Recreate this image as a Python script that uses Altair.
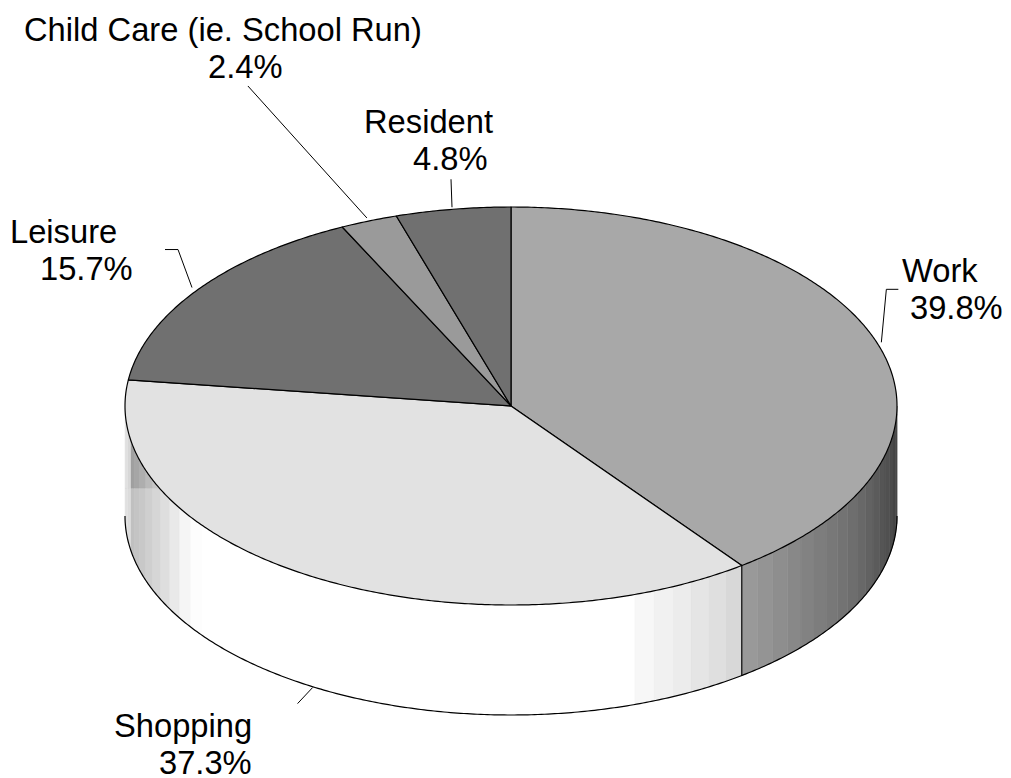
import math
import altair as alt
import pandas as pd

# ---- chart values -------------------------------------------------------
names = ["Work", "Shopping", "Leisure", "Child Care (ie. School Run)", "Resident"]
shares = [39.8, 37.3, 15.7, 2.4, 4.8]
share_labels = ["39.8%", "37.3%", "15.7%", "2.4%", "4.8%"]

# ---- styles -------------------------------------------------------------
top_colors = ["#a8a8a8", "#e2e2e2", "#707070", "#9a9a9a", "#707070"]
work_wall = ["#999999", "#949494", "#8e8e8e", "#888888", "#828282", "#7d7d7d",
             "#787878", "#737373", "#6e6e6e", "#686868", "#626262", "#5b5b5b",
             "#555555", "#505050", "#4b4b4b", "#464646", "#414141", "#3c3c3c"]
shop_wall_right = ["#d8d8d8", "#dfdfdf", "#e5e5e5", "#ececec", "#f1f1f1", "#f7f7f7"]
shop_wall_left_low = ["#fdfdfd", "#f5f5f5", "#e9e9e9", "#dedede", "#d6d6d6",
                      "#cfcfcf", "#c8c8c8", "#c4c4c4", "#c0c0c0", "#dcdcdc", "#e0e0e0", "#e0e0e0"]
shop_wall_left_up = ["#fdfdfd", "#f5f5f5", "#e9e9e9", "#d4d4d4", "#c6c6c6",
                     "#bababa", "#aeaeae", "#a6a6a6", "#a0a0a0", "#d8d8d8", "#e0e0e0", "#e0e0e0"]

# ---- layout -------------------------------------------------------------
CX, CY, RX, RY, DEPTH = 511, 406, 386, 199, 110
STEP = 3.0
SEAM_Y = 488
FONT = "Liberation Sans"
FONT_SIZE = 32.7
# slice index -> offsets of the leader from the slice's rim mid-point
leaders = {
    0: [(4, -1), (9, -54), (21, -54)],
    1: [(-3, 0), (-18, 16)],
    2: [(-6, -2), (-20, -40), (-33, -40)],
    3: [(-2, -3), (-121, -135)],
    4: [(-1, -2), (-2, -30)],
}
# per text line: slice, kind, left x, baseline y
label_layout = [
    (0, "name", 902, 282), (0, "share", 910, 319),
    (1, "name", 114, 737), (1, "share", 159, 774),
    (2, "name", 10, 243), (2, "share", 40, 280),
    (3, "name", 24, 41), (3, "share", 208, 78),
    (4, "name", 364, 133), (4, "share", 413, 170),
]


def pt(deg, drop=0):
    r = math.radians(deg)
    return CX + RX * math.sin(r), CY - RY * math.cos(r) + drop


def arc(a0, a1, drop=0, step=0.5):
    n = max(2, int(abs(a1 - a0) / step) + 1)
    return [pt(a0 + (a1 - a0) * i / (n - 1), drop) for i in range(n)]


total = sum(shares)
edges = [0.0]
for s in shares:
    edges.append(edges[-1] + s / total * 360)


def add(rows, gid, pts, fill):
    pts = list(pts) + [pts[0]]
    for i, (x, y) in enumerate(pts):
        rows.append({"g": gid, "i": i, "x": x, "y": y, "c": fill})


wall_rows = []
a_work = edges[1]
# base white wall of the front
add(wall_rows, "base", arc(90, 270) + arc(270, 90, DEPTH), "#ffffff")
# Work wall facets, walking back from the slice edge to the right-hand rim
for k, col in enumerate(work_wall):
    a1 = a_work - k * STEP
    a0 = max(90, a1 - STEP)
    add(wall_rows, f"w{k:02d}", arc(a0, a1) + arc(a1, a0, DEPTH), col)
for k, col in enumerate(shop_wall_right):
    a0 = a_work + k * STEP
    a1 = a0 + STEP
    add(wall_rows, f"s{k:02d}", arc(a0, a1) + arc(a1, a0, DEPTH), col)
# left facets continue the same 3-degree grid
k0 = int((236 - a_work) / STEP)
for k in range(len(shop_wall_left_low)):
    a0 = a_work + (k0 + k) * STEP
    a1 = min(270, a0 + STEP)
    if a1 <= a0:
        continue
    low = arc(a0, a1)
    lower = [(x, max(y, SEAM_Y)) for x, y in low]
    upper = [(x, min(y, SEAM_Y)) for x, y in low]
    add(wall_rows, f"l{k:02d}", lower + arc(a1, a0, DEPTH), shop_wall_left_low[k])
    add(wall_rows, f"u{k:02d}", upper + [(x, SEAM_Y) for x, _ in reversed(low)], shop_wall_left_up[k])

top_rows = []
for k, col in enumerate(top_colors):
    add(top_rows, f"t{k}", [(CX, CY)] + arc(edges[k], edges[k + 1]), col)

outline_rows = []
for i, (x, y) in enumerate(arc(90, 270, DEPTH)):
    outline_rows.append({"g": "bottom", "i": i, "x": x, "y": y})
for i, (x, y) in enumerate([pt(a_work), pt(a_work, DEPTH)]):
    outline_rows.append({"g": "divider", "i": i, "x": x, "y": y})

leader_rows = []
for k, offs in leaders.items():
    mid = (edges[k] + edges[k + 1]) / 2
    drop = DEPTH if 90 < mid < 270 else 0
    ax, ay = pt(mid, drop)
    for i, (dx, dy) in enumerate(offs):
        leader_rows.append({"g": f"L{k}", "i": i, "x": ax + dx, "y": ay + dy})

text_rows = []
for k, kind, x, y in label_layout:
    text_rows.append({"x": x, "y": y, "t": names[k] if kind == "name" else share_labels[k]})

# ---- chart --------------------------------------------------------------
X = alt.X("x:Q", axis=None, scale=alt.Scale(domain=[8, 1003], nice=False, zero=False))
Y = alt.Y("y:Q", axis=None, scale=alt.Scale(domain=[778, 8], nice=False, zero=False))


def filled(rows, **mark):
    return alt.Chart(pd.DataFrame(rows)).mark_line(filled=True, **mark).encode(
        x=X, y=Y, order=alt.Order("i:Q"), detail="g:N",
        fill=alt.Fill("c:N", scale=None),
    )


walls = alt.Chart(pd.DataFrame(wall_rows)).mark_line(filled=True, strokeWidth=0.5).encode(
    x=X, y=Y, order=alt.Order("i:Q"), detail="g:N",
    fill=alt.Fill("c:N", scale=None),
    stroke=alt.Stroke("c:N", scale=None),
)
tops = filled(top_rows, stroke="black", strokeWidth=1.2, strokeJoin="round")


def lines(rows, width):
    return alt.Chart(pd.DataFrame(rows)).mark_line(color="black", strokeWidth=width).encode(
        x=X, y=Y, order=alt.Order("i:Q"), detail="g:N")


outline = lines(outline_rows, 1.2)
leader = lines(leader_rows, 1)
texts = alt.Chart(pd.DataFrame(text_rows)).mark_text(
    align="left", baseline="alphabetic", font=FONT, fontSize=FONT_SIZE, color="black"
).encode(x=X, y=Y, text="t:N")

chart = alt.layer(walls, tops, outline, leader, texts).properties(
    width=995, height=770, padding=0, autosize=alt.AutoSizeParams(type="none"),
    background="white",
).configure_view(stroke=None)

chart.save("out.html", embed_options={"renderer": "svg", "actions": False})
